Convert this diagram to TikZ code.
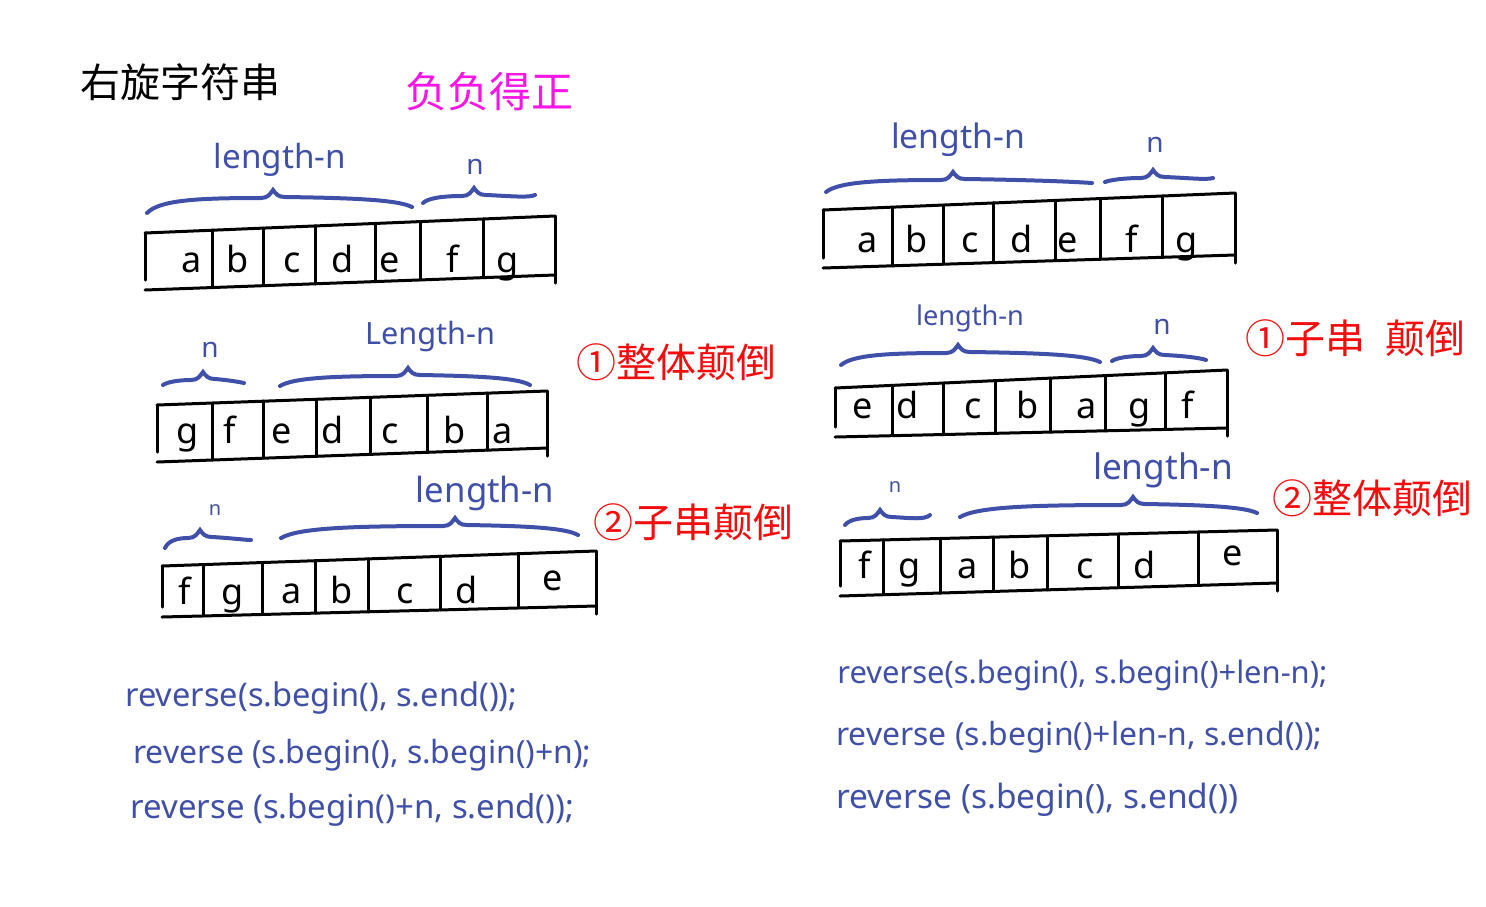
\documentclass[tikz,border=0pt]{standalone}
\usepackage{fontspec}
\usepackage{graphicx}
\setmainfont{Noto Sans}
\newfontfamily\cjk{Noto Sans CJK SC}
\definecolor{pen}{RGB}{64,80,168}
\definecolor{redink}{RGB}{245,12,12}
\definecolor{mag}{RGB}{250,20,230}
\newcommand\cellrow[9]{%
  \draw[box] (#2,#3) -- (#4,#5);
  \draw[box] (#2,#6) -- (#4,#7);
  \draw[box] (#2,#3) -- (#2,{#6-10});
  \draw[box] (#4,#5) -- (#4,{#7+8});
  \foreach \xx in {#8} {%
    \pgfmathsetmacro\yt{#3+(#5-#3)*(\xx-#2)/(#4-#2)}%
    \pgfmathsetmacro\yb{#6+(#7-#6)*(\xx-#2)/(#4-#2)}%
    \draw[box] (\xx,\yt) -- (\xx,\yb);}
  \foreach \xx/\yy/\cc in {#9} {\node[cellchar] (#1-\cc) at (\xx,\yy) {\cc};}
}
\newcommand\curlybr[6]{%
  \draw[brc] (#1,#2) .. controls ({#1+0.1*(#3-#1)},{#4+10}) and ({#1+0.4*(#3-#1)},{#4+8}) .. ({#3-12},{#4+8})
    .. controls ({#3-5},{#4+8}) and ({#3-3},{#4+4}) .. (#3,#4)
    .. controls ({#3+3},{#4+4}) and ({#3+5},{#4+7}) .. ({#3+12},{#4+7})
    .. controls ({#5-0.4*(#5-#3)},{#4+8}) and ({#5-0.1*(#5-#3)},{#4+10}) .. (#5,#6);}
\begin{document}
\begin{tikzpicture}[x=0.5pt,y=-0.5pt,
  box/.style={line width=1.5pt, line cap=round, draw=black},
  brc/.style={line width=2pt, draw=pen, line cap=round},
  cellchar/.style={font=\fontsize{18}{20}\selectfont, anchor=base, inner sep=0pt},
  lbl/.style={text=pen, inner sep=0pt},
  nlbl/.style={text=pen, inner sep=0pt, font=\fontsize{14}{16}\selectfont},
  code/.style={text=pen, inner sep=0pt, anchor=west},
  redl/.style={text=redink, inner sep=0pt, font=\cjk\fontsize{20}{24}\selectfont}]
\useasboundingbox (0,0) rectangle (1486,906);

% titles
\node[inner sep=0pt, font=\cjk\fontsize{20}{24}\selectfont] (title) at (180,82) {右旋字符串};
\node[inner sep=0pt, text=mag, font=\cjk\fontsize{21}{24}\selectfont] (sub) at (489,92) {负负得正};

% left column
\cellrow{L1}{145}{233}{555}{216}{290}{275}{212,263,315,375,420,483}{192/272/a,238/272/b,292/272/c,343/272/d,390/272/e,453/272/f,508/272/g}
\curlybr{147}{213}{273}{190}{412}{207}
\curlybr{423}{203}{474}{188}{535}{195}
\node[lbl] (L1len) at (280,160) {\resizebox{66pt}{!}{length-n}};
\node[nlbl] (L1n) at (475,167) {n};

\cellrow{L2}{157}{405}{547}{391}{462}{448}{212,263,316,370,427,487}{188/443/g,230/443/f,282/443/e,333/443/d,390/443/c,455/443/b,503/443/a}
\curlybr{163}{385}{203}{372}{244}{383}
\curlybr{280}{386}{408}{368}{530}{385}
\node[nlbl] (L2n) at (210,350) {n};
\node[lbl] (L2len) at (430,337) {\resizebox{65pt}{!}{Length-n}};
\node[redl] (R1lbl) at (676,362) {①整体颠倒};

\cellrow{L3}{162}{566}{596}{551}{617}{606}{203,262,315,368,440,518}{185/604/f,233/604/g,292/603/a,342/603/b,405/603/c,467/603/d,553/590/e}
\curlybr{165}{548}{200}{530}{251}{540}
\curlybr{281}{538}{455}{518}{578}{535}
\node[nlbl, font=\fontsize{10}{12}\selectfont] (L3n) at (215,510) {n};
\node[lbl] (L3len) at (485,493) {\resizebox{69pt}{!}{length-n}};
\node[redl] (R2lbl) at (693,522) {②子串颠倒};

% right column
\cellrow{R1}{823}{210}{1235}{193}{268}{255}{892,943,993,1055,1100,1162}{868/252/a,917/252/b,970/252/c,1022/252/d,1068/252/e,1132/252/f,1187/252/g}
\curlybr{826}{192}{953}{172}{1092}{183}
\curlybr{1105}{182}{1153}{170}{1213}{178}
\node[lbl] (R1len) at (958,140) {\resizebox{67pt}{!}{length-n}};
\node[nlbl] (R1n) at (1155,145) {n};

\cellrow{R2}{835}{388}{1227}{370}{437}{428}{892,943,995,1050,1105,1165}{863/418/e,908/418/d,973/418/c,1028/418/b,1087/418/a,1140/418/g,1188/418/f}
\curlybr{841}{365}{958}{345}{1100}{362}
\curlybr{1112}{361}{1153}{348}{1206}{360}
\node[lbl] (R2len) at (970,318) {\resizebox{54pt}{!}{length-n}};
\node[nlbl] (R2n) at (1162,327) {n};
\node[redl] (R3lbl) at (1355,338) {①子串\hspace{0.5em}颠倒};

\cellrow{R3}{840}{541}{1277}{530}{596}{583}{883,940,993,1047,1118,1198}{865/578/f,910/578/g,968/578/a,1020/578/b,1085/578/c,1145/578/d,1233/565/e}
\curlybr{845}{525}{880}{510}{930}{515}
\curlybr{960}{517}{1133}{497}{1257}{513}
\node[nlbl, font=\fontsize{10}{12}\selectfont] (R3n) at (895,487) {n};
\node[lbl] (R3len) at (1163,470) {\resizebox{70pt}{!}{length-n}};
\node[redl] (R4lbl) at (1372,498) {②整体颠倒};

% code
\node[code] (c1) at (125,698) {\resizebox{196pt}{!}{reverse(s.begin(), s.end());}};
\node[code] (c2) at (133,755) {\resizebox{229pt}{!}{reverse (s.begin(), s.begin()+n);}};
\node[code] (c3) at (130,810) {\resizebox{222pt}{!}{reverse (s.begin()+n, s.end());}};
\node[code] (c4) at (837,675) {\resizebox{245pt}{!}{reverse(s.begin(), s.begin()+len-n);}};
\node[code] (c5) at (836,737) {\resizebox{243pt}{!}{reverse (s.begin()+len-n, s.end());}};
\node[code] (c6) at (836,800) {\resizebox{201pt}{!}{reverse (s.begin(), s.end())}};
\end{tikzpicture}
\end{document}
